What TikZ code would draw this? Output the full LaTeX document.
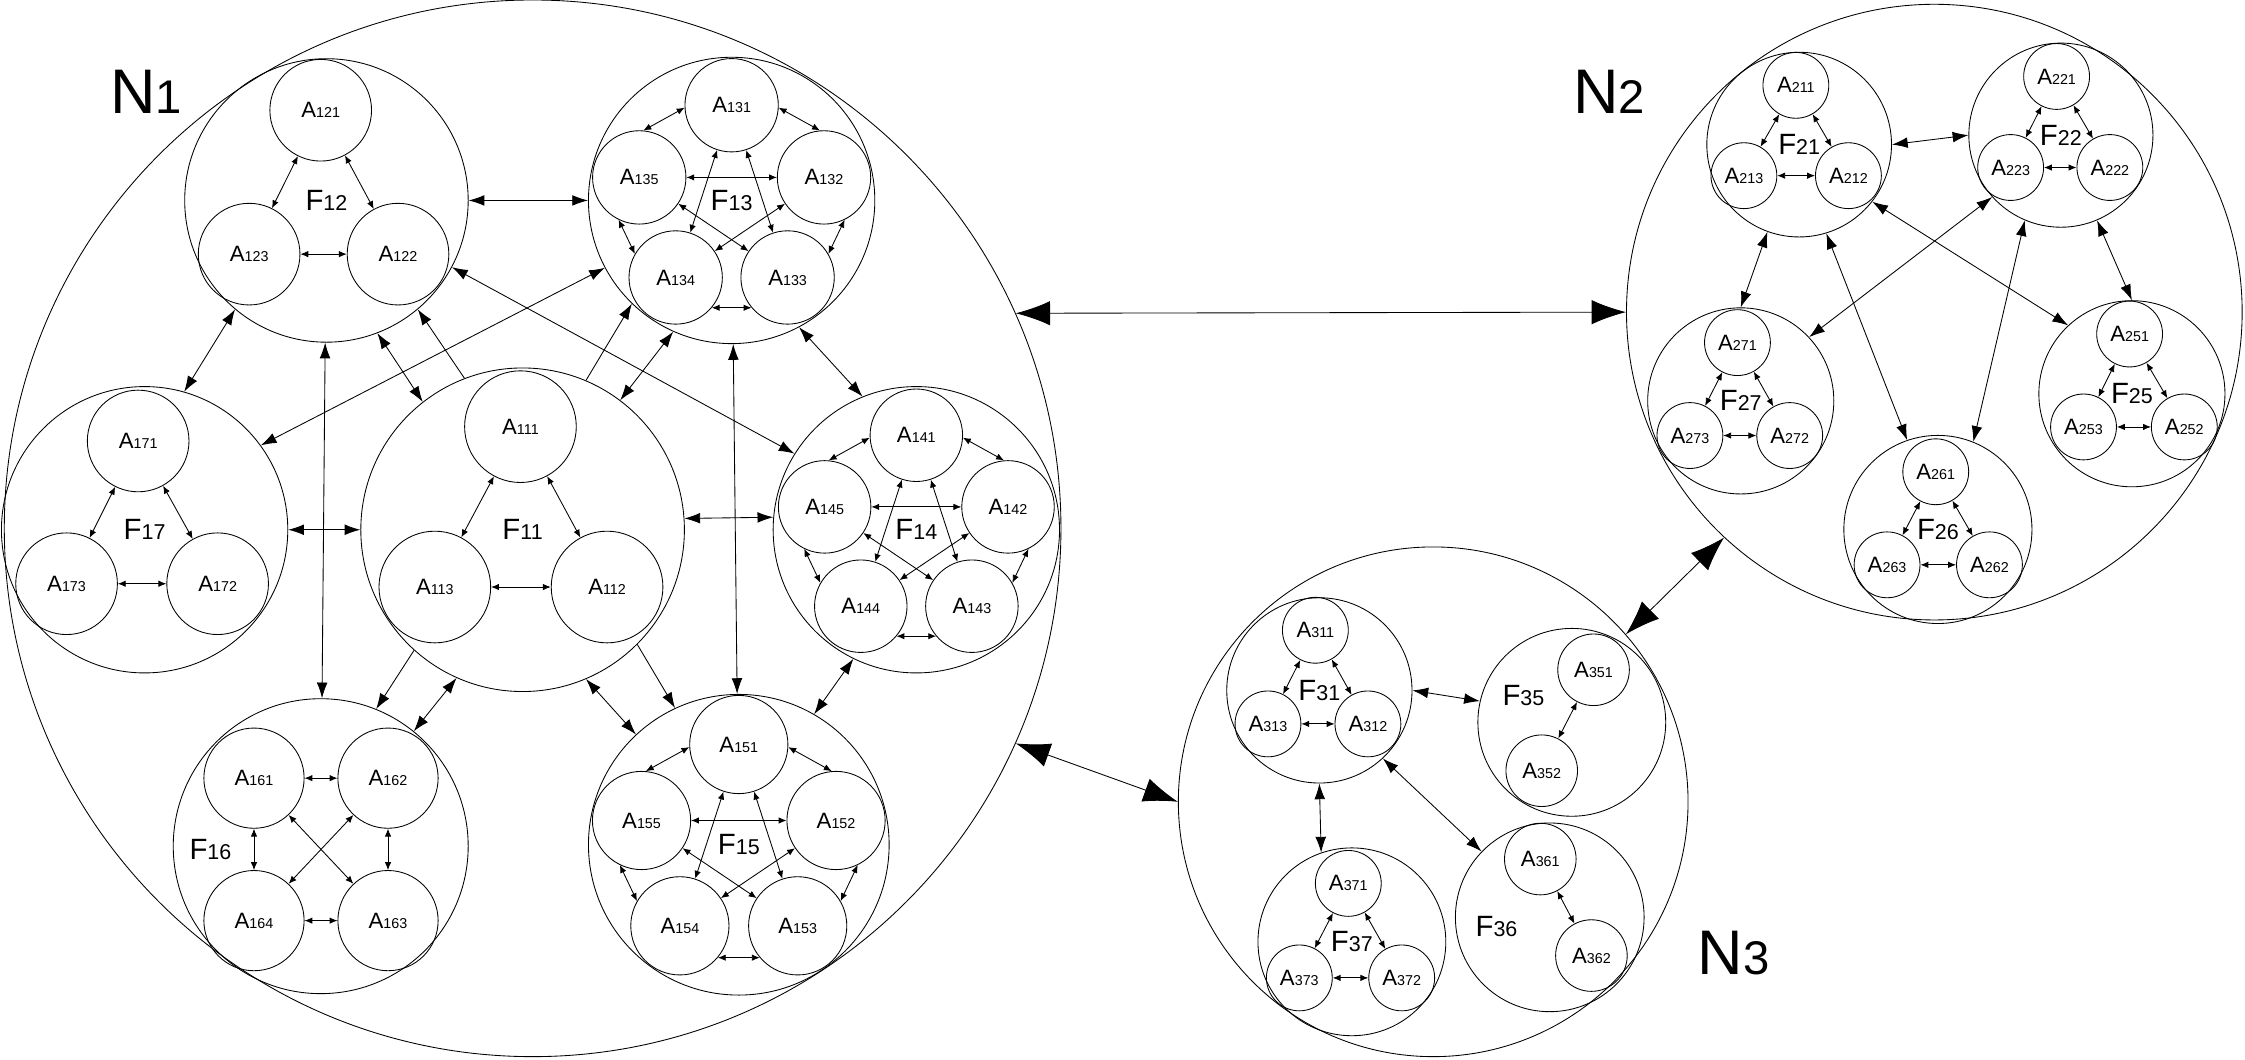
\documentclass[tikz,border=0pt]{standalone}
\usepackage{fontspec}
\setmainfont{Liberation Sans}
\usepackage{tikz}
\usetikzlibrary{arrows.meta,calc}

\newcommand{\albl}[1]{{\fontsize{15.5}{16}\selectfont A}{\fontsize{10}{10}\selectfont #1}}
\newcommand{\flbl}[1]{{\fontsize{20.5}{21}\selectfont F}{\fontsize{15}{15}\selectfont #1}}
\newcommand{\nlbl}[1]{{\fontsize{44}{44}\selectfont N}{\fontsize{33}{33}\selectfont #1}}

\begin{document}
\begin{tikzpicture}[x=1pt,y=1pt,line width=0.6pt,
    circ/.style={circle,draw,inner sep=0pt,minimum size=2*#1},
    aarr/.style={{Latex[length=5.5pt,width=4.5pt]}-{Latex[length=5.5pt,width=4.5pt]}},
    fboth/.style={{Latex[length=11pt,width=7.5pt]}-{Latex[length=11pt,width=7.5pt]}},
    fone/.style={-{Latex[length=11pt,width=7.5pt]}},
    nboth/.style={{Latex[length=24pt,width=17pt]}-{Latex[length=24pt,width=17pt]}}]

    \useasboundingbox (0,0) rectangle (1568,740);

    % Networks
    \node[circ=369] (N1) at (372,371) {};
    \node[circ=215] (N2) at (1351,522) {};
    \node[circ=178] (N3) at (1001,180) {};
    \node (N1l) at (102,676) {\nlbl{1}};
    \node (N2l) at (1124,676) {\nlbl{2}};
    \node (N3l) at (1211,74) {\nlbl{3}};

    % Federations with centred labels
    \foreach \n/\x/\y/\r in {
    11/365/370/113,
    12/228/600/99,
    13/511/600/100,
    14/640/370/100,
    15/516/150/105,
    17/101/370/100,
    21/1256.6/639/64.5,
    22/1439.4/645.6/64.3,
    25/1489/465/65,
    26/1353.5/370.2/65.7,
    27/1215.8/460/65,
    31/921.5/257.8/64.7,
    37/944.2/82.2/65.6} {
    \node[circ=\r] (F\n) at (\x,\y) {\flbl{\n}};
    }

    % Federations with the label off centre
    \node[circ=103] (F16) at (224,149) {};
    \node (F16l) at (147,147) {\flbl{16}};
    \node[circ=65.6] (F35) at (1097.8,235.5) {};
    \node (F35l) at (1064,254.2) {\flbl{35}};
    \node[circ=65.9] (F36) at (1082.4,99.3) {};
    \node (F36l) at (1045.2,93) {\flbl{36}};

    % Agents in N1
    \foreach \n/\x/\y in {121/224/663, 122/278/562.5, 123/174/562.5,
    171/96.5/432, 172/152/332.3, 173/46.5/332.3} {
    \node[circ=35.5] (A\n) at (\x,\y) {\albl{\n}};
    }
    \foreach \n/\x/\y in {111/363.5/442, 112/424/330, 113/303.7/330} {
    \node[circ=39] (A\n) at (\x,\y) {\albl{\n}};
    }
    \foreach \n/\x/\y in {161/177.4/196.5, 162/271/196.5, 163/271/97, 164/177.4/97} {
    \node[circ=35] (A\n) at (\x,\y) {\albl{\n}};
    }
    \foreach \f/\r/\s in {13/66.5/32.6, 14/66/32.3, 15/70/34.3} {
    \foreach \i/\a in {1/90, 2/14, 3/-54, 4/-126, 5/166} {
    \node[circ=\s] (A\f\i) at ($(F\f)+(\a:\r)$) {\albl{\f\i}};
    }
    }

    % Agents in N2 and N3
    \foreach \n/\x/\y in {
    211/1254.3/680.4, 212/1291/617.3, 213/1218/617.3,
    221/1436.4/686.6, 222/1473.6/623, 223/1404.3/623,
    251/1487.4/506.7, 252/1525.6/441.8, 253/1455.2/441.8,
    261/1352/410.5, 262/1389.5/345.5, 263/1318/345.5,
    271/1213.5/500.7, 272/1250/435.8, 273/1180.3/435.8,
    311/918.7/299.8, 312/955.4/234.4, 313/885.6/234.4,
    371/941.7/123, 372/979/57, 373/907.5/57} {
    \node[circ=23] (A\n) at (\x,\y) {\albl{\n}};
    }
    \foreach \n/\x/\y in {351/1113/272.2, 352/1076.8/201.7, 361/1075.8/140, 362/1111.5/72.6} {
    \node[circ=25] (A\n) at (\x,\y) {\albl{\n}};
    }

    % Links between agents
    \foreach \f in {11,12,17,21,22,25,26,27,31,37} {
    \draw[aarr] (A\f1) -- (A\f2);
    \draw[aarr] (A\f1) -- (A\f3);
    \draw[aarr] (A\f3) -- (A\f2);
    }
    % pentagons: ring links go round the outside, the rest cross the middle
    \foreach \f in {13,14,15} {
    \foreach \i/\p/\j/\q in {1/183/5/85, 1/-3/2/95, 5/244/4/150, 2/-64/3/30, 4/-40/3/220} {
    \draw[aarr] (A\f\i.\p) -- (A\f\j.\q);
    }
    \foreach \i/\j in {1/3,1/4,2/4,2/5,3/5} {
    \draw[aarr] (A\f\i) -- (A\f\j);
    }
    }
    \foreach \i/\j in {1/2,1/3,1/4,2/3,2/4,3/4} {
    \draw[aarr] (A16\i) -- (A16\j);
    }
    \draw[aarr] (A351) -- (A352);
    \draw[aarr] (A361) -- (A362);

    % Links between federations of N1
    \draw[fboth] (F12.east) -- (F13.west);
    \draw[fboth] (F12.230) -- (F17.74);
    \draw[fboth] (F12.-69) -- (F11.128);
    \draw[fone] (F11.111) -- (F12.-50);
    \draw[fboth] (F17.36) -- (F13.208);
    \draw[fone] (F11.67) -- (F13.226);
    \draw[fboth] (F11.53) -- (F13.246);
    \draw[fboth] (F12.-28) -- (F14.148);
    \draw[fboth] (F13.-62) -- (F14.112);
    \draw[fboth] (F12) -- (F16);
    \draw[fboth] (F13) -- (F15);
    \draw[fboth] (F17) -- (F11);
    \draw[fboth] (F11.4) -- (F14.175);
    \draw[fone] (F11.228) -- (F16.68);
    \draw[fboth] (F11.246) -- (F16.51);
    \draw[fboth] (F11.-67) -- (F15.133);
    \draw[fone] (F11.-45) -- (F15.115);
    \draw[fboth] (F14.244) -- (F15.60);

    % Links between federations of N2
    \draw[fboth] (F21.east) -- (F22.west);
    \draw[fboth] (F21.250) -- (F27.north);
    \draw[fboth] (F21.-73) -- (F26.109);
    \draw[fboth] (F21.-38) -- (F25.133);
    \draw[fboth] (F22.222) -- (F27.43);
    \draw[fboth] (F22.247) -- (F26.68);
    \draw[fboth] (F22.-67) -- (F25.north);

    % Links between federations of N3
    \draw[fboth] (F31.east) -- (F35.167);
    \draw[fboth] (F31.south) -- (F37.109);
    \draw[fboth] (F31.-47) -- (F36.136);

    % Links between networks
    \draw[nboth] (N1.24) -- (N2.west);
    \draw[nboth] (N1.-24) -- (N3.west);
    \draw[nboth] (N3.41) -- (N2.227);

\end{tikzpicture}
\end{document}
